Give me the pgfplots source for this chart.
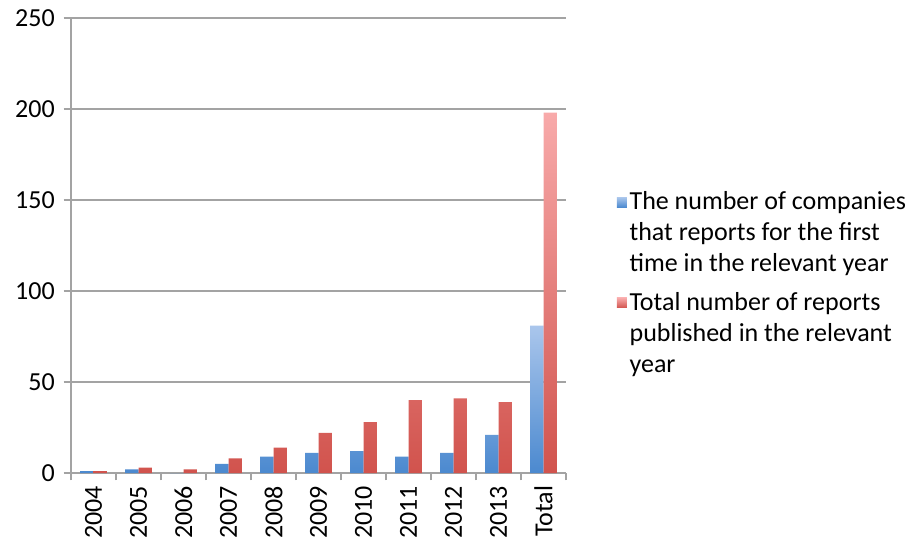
\documentclass[border=0pt]{standalone}
\usepackage{fontspec}
\setmainfont{Carlito}
\usepackage{pgfplots}
\pgfplotsset{compat=1.18}

\definecolor{bluetop}{HTML}{AAC6EC}
\definecolor{bluebot}{HTML}{4B89CF}
\definecolor{redtop}{HTML}{F8AAAA}
\definecolor{redbot}{HTML}{D1534D}
\definecolor{axisgray}{HTML}{A3A3A3}

\begin{document}
\fontsize{19.5}{23.4}\selectfont
\begin{tikzpicture}
\begin{axis}[
  name=ax,
  scale only axis,
  width=371.25pt, height=341.25pt,
  xmin=-0.5, xmax=10.5,
  ymin=0, ymax=250,
  ytick={0,50,...,250},
  % category boundaries carry the tick marks, centres carry the labels
  xtick={-0.5,0.5,...,10.5},
  xticklabels={,,,,,,,,,,,,},
  extra x ticks={0,1,...,10},
  extra x tick labels={2004,2005,2006,2007,2008,2009,2010,2011,2012,2013,Total},
  extra x tick style={
    major tick length=0pt,
    xticklabel style={yshift=-3pt, rotate=90, anchor=east},
  },
  axis x line*=bottom,
  axis y line*=left,
  axis line style={draw=axisgray, line width=1.5pt},
  tick align=outside,
  major tick length=5.5pt,
  tick style={draw=axisgray, line width=1.5pt},
  ymajorgrids,
  grid style={draw=axisgray, line width=1.5pt},
  font=\fontsize{19.5}{23.4}\selectfont,
  tick label style={font=\fontsize{19.5}{23.4}\selectfont},
  /pgf/number format/assume math mode=true,
  ybar=0pt,
  bar width=10.1pt,
  legend style={
    at={(1,0.5)}, anchor=west,
    xshift=38pt, yshift=-4pt,
    draw=none, fill=none,
    inner sep=0pt,
    row sep=19.5pt,
    cells={anchor=west},
    font=\fontsize{19.5}{23.4}\selectfont,
  },
  % small square beside the first line of each entry
  legend image code/.code={%
    \pgfpathrectangle{\pgfpoint{0pt}{-28pt}}{\pgfpoint{7.5pt}{56pt}}%
    \pgfusepath{use as bounding box}%
    \path[#1, draw=none] (0pt,-5.1pt) rectangle (7.5pt,2.4pt);
  },
]
% companies reporting for the first time
\addplot[draw=none, top color=bluetop, bottom color=bluebot]
  coordinates {(0,1) (1,2) (2,0) (3,5) (4,9) (5,11) (6,12) (7,9) (8,11) (9,21) (10,81)};
% all reports published in the year
\addplot[draw=none, top color=redtop, bottom color=redbot]
  coordinates {(0,1) (1,3) (2,2) (3,8) (4,14) (5,22) (6,28) (7,40) (8,41) (9,39) (10,198)};
\addlegendentry{\begin{tabular}[t]{@{}l@{}}The number of companies\\that reports for the first\\time in the relevant year\end{tabular}}
\addlegendentry{\begin{tabular}[t]{@{}l@{}}Total number of reports\\published in the relevant\\year\end{tabular}}
\end{axis}
\pgfresetboundingbox
\path (ax.south west) ++(-53.25pt,-51.75pt) rectangle ++(689.25pt,406.5pt);
\end{tikzpicture}
\end{document}
